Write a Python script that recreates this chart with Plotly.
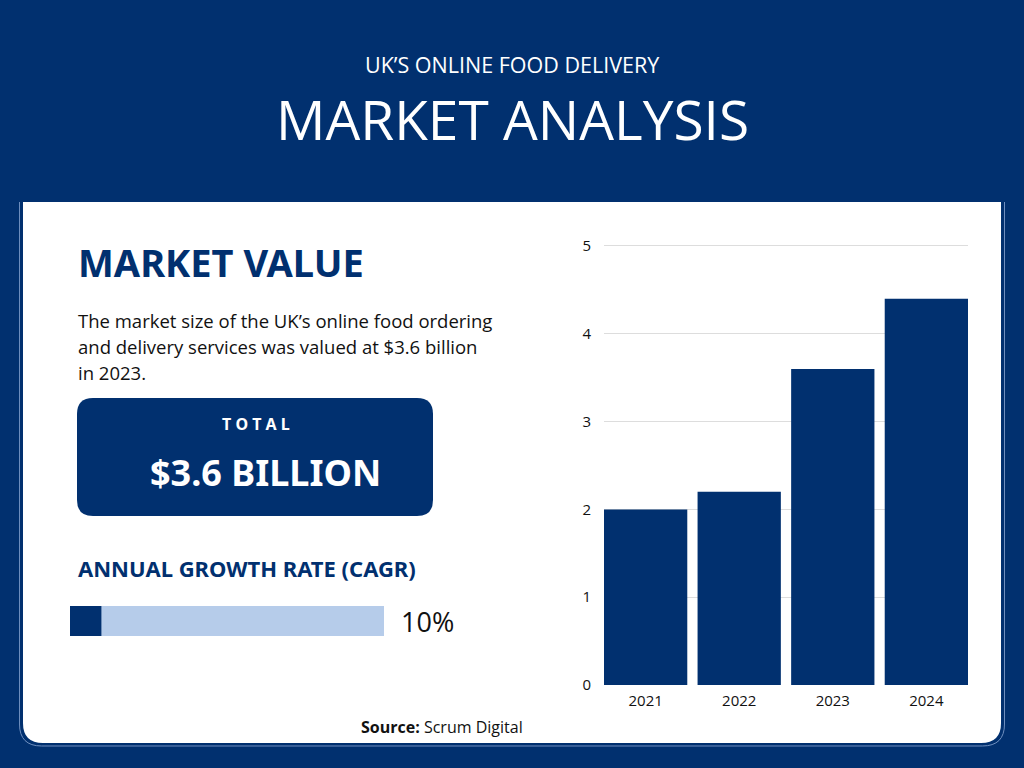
import plotly.graph_objects as go

W, H = 1024, 768
NAVY = "#01306F"
LIGHT = "#B6CCEA"

years = ["2021", "2022", "2023", "2024"]
market_value = [2.0, 2.2, 3.6, 4.4]
y_ticks = [0, 1, 2, 3, 4, 5]
cagr_pct = 10
cagr_max = 100
paragraph_lines = [
    "The market size of the UK’s online food ordering",
    "and delivery services was valued at $3.6 billion",
    "in 2023.",
]

def px(x):
    return x / W

def py(y):
    return 1 - y / H

def rounded_rect_path(x0, y0, x1, y1, r, top_round=True):
    def P(x, y):
        return f"{px(x):.5f},{py(y):.5f}"
    if top_round:
        parts = [f"M {P(x0 + r, y0)}", f"L {P(x1 - r, y0)}", f"Q {P(x1, y0)} {P(x1, y0 + r)}"]
    else:
        parts = [f"M {P(x0, y0)}", f"L {P(x1, y0)}"]
    parts += [f"L {P(x1, y1 - r)}", f"Q {P(x1, y1)} {P(x1 - r, y1)}",
              f"L {P(x0 + r, y1)}", f"Q {P(x0, y1)} {P(x0, y1 - r)}"]
    if top_round:
        parts += [f"L {P(x0, y0 + r)}", f"Q {P(x0, y0)} {P(x0 + r, y0)}"]
    else:
        parts += [f"L {P(x0, y0)}"]
    parts.append("Z")
    return " ".join(parts)

fig = go.Figure(layout=dict(template="none"))

BAR_W = 0.89
fig.add_trace(go.Bar(
    x=years, y=market_value, marker=dict(color=NAVY, line=dict(width=0)),
    width=BAR_W, xaxis="x", yaxis="y", hoverinfo="skip", showlegend=False,
))

# CAGR progress bar
fig.add_trace(go.Bar(
    x=[cagr_max], y=["cagr"], orientation="h", marker=dict(color=LIGHT, line=dict(width=0)),
    width=1, xaxis="x2", yaxis="y2", hoverinfo="skip", showlegend=False,
))
fig.add_trace(go.Bar(
    x=[cagr_pct], y=["cagr"], orientation="h", marker=dict(color=NAVY, line=dict(width=0)),
    width=1, xaxis="x2", yaxis="y2", hoverinfo="skip", showlegend=False,
))

shapes = [
    dict(type="path", xref="paper", yref="paper",
         path=rounded_rect_path(19.5, 190, 1004.5, 746, 22, top_round=False),
         fillcolor="rgba(0,0,0,0)", line=dict(color="#6F8FBF", width=1), layer="below"),
    dict(type="path", xref="paper", yref="paper",
         path=rounded_rect_path(23, 202, 1001, 743, 20, top_round=False),
         fillcolor="white", line=dict(width=0), layer="below"),
    dict(type="rect", xref="paper", yref="paper", x0=0, x1=1, y0=py(202), y1=1,
         fillcolor=NAVY, line=dict(width=0), layer="below"),
    dict(type="path", xref="paper", yref="paper",
         path=rounded_rect_path(77, 398, 433, 516, 16),
         fillcolor=NAVY, line=dict(width=0), layer="below"),
]

ann = []
def T(text, x, y, size, color="black", family="Open Sans", weight="normal", xanchor="left", yanchor="middle"):
    ann.append(dict(text=text, x=px(x), y=py(y), xref="paper", yref="paper", showarrow=False,
                    xanchor=xanchor, yanchor=yanchor, align="left",
                    font=dict(size=size, color=color, family=family, weight=weight)))

T("UK’S ONLINE FOOD DELIVERY", 512, 64, 21.5, "white", "Open Sans", xanchor="center")
T("MARKET ANALYSIS", 512, 119, 55, "white", "Open Sans", xanchor="center")
T("MARKET VALUE", 76, 262, 38, NAVY, "Noto Sans", "bold")
for i, line in enumerate(paragraph_lines):
    T(line, 76, 320 + 26.5 * i, 18.5, "#111111", "Open Sans")
T("T O T A L", 256, 424, 16, "white", "Noto Sans", "bold", xanchor="center")
T("$3.6 BILLION", 265, 472, 36, "white", "Noto Sans", "bold", xanchor="center")
T("ANNUAL GROWTH RATE (CAGR)", 76, 568, 22, NAVY, "Noto Sans", "bold")
T(f"{cagr_pct}%", 399, 621, 27, "#111111", "Open Sans")
T("<b>Source:</b> Scrum Digital", 442, 727, 16, "#111111", "Open Sans", xanchor="center")

half = BAR_W / 2
Y_MAX = 5.03
unit_px = (685 - 246) / 5
fig.update_layout(
    width=W, height=H, margin=dict(l=0, r=0, t=0, b=0, pad=0), autosize=False,
    paper_bgcolor=NAVY, plot_bgcolor="rgba(0,0,0,0)",
    barmode="overlay", showlegend=False,
    shapes=shapes, annotations=ann,
    xaxis=dict(type="category", domain=[px(604), px(968)], range=[-half, len(years) - 1 + half],
               showgrid=False, showline=False, zeroline=False,
               ticks="", automargin=False, ticklabelstandoff=5,
               tickfont=dict(family="Open Sans", size=15, color="#111111"),
               fixedrange=True),
    yaxis=dict(domain=[py(685), py(685 - Y_MAX * unit_px)], range=[0, Y_MAX], tickvals=y_ticks,
               automargin=False,
               showgrid=True, gridcolor="#DDDDDD", gridwidth=1, zeroline=False, showline=False,
               ticks="", ticklabelstandoff=12,
               tickfont=dict(family="Open Sans", size=15, color="#111111"), fixedrange=True),
    xaxis2=dict(domain=[px(70), px(384)], range=[0, cagr_max], visible=False, anchor="y2",
                automargin=False, fixedrange=True),
    yaxis2=dict(domain=[py(636), py(606)], visible=False, anchor="x2", automargin=False, fixedrange=True),
)

css_js = (
    "document.documentElement.style.margin='0';"
    "document.documentElement.style.overflow='hidden';"
    "document.body.style.margin='0';"
    "document.body.style.padding='0';"
    "document.body.style.overflow='hidden';"
    "document.body.style.background='" + NAVY + "';"
)
fig.write_html("out.html", config={"displayModeBar": False}, post_script=css_js)
